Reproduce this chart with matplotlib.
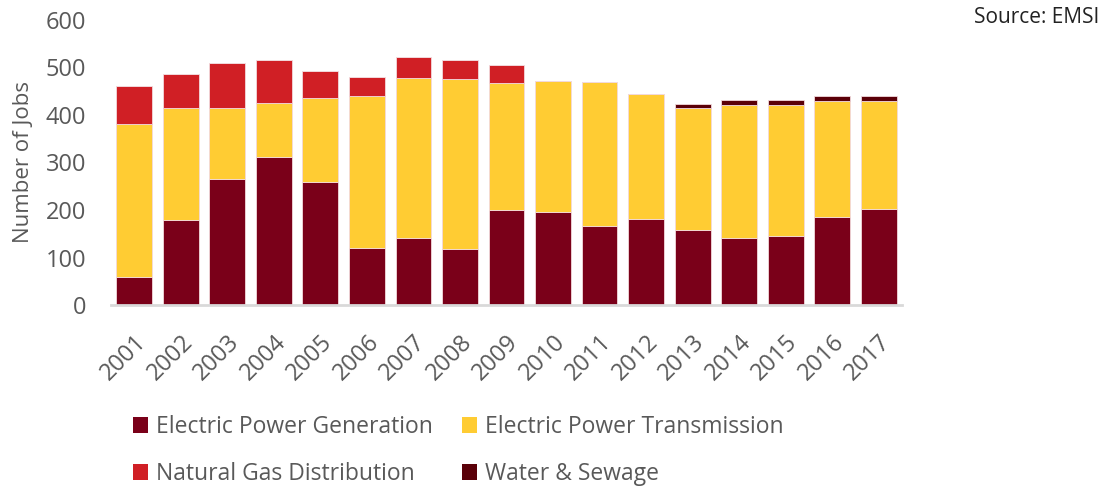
import matplotlib
matplotlib.use("Agg")
import matplotlib.pyplot as plt
import numpy as np
from matplotlib.patches import Patch

years = ["2001", "2002", "2003", "2004", "2005", "2006", "2007", "2008", "2009",
         "2010", "2011", "2012", "2013", "2014", "2015", "2016", "2017"]
generation = [58, 179, 265, 312, 259, 120, 140, 118, 200, 196, 166, 181, 157, 140, 145, 186, 202]
transmission = [324, 236, 150, 114, 177, 320, 337, 358, 267, 275, 303, 263, 257, 282, 277, 244, 228]
natural_gas = [79, 72, 95, 89, 57, 40, 46, 39, 38, 0, 0, 0, 0, 0, 0, 0, 0]
water_sewage = [0, 0, 0, 0, 0, 0, 0, 0, 0, 0, 0, 0, 10, 10, 10, 11, 11]

series = [
    ("Electric Power Generation", generation, "#7A0019"),
    ("Electric Power Transmission", transmission, "#FFCC33"),
    ("Natural Gas Distribution", natural_gas, "#D01F25"),
    ("Water & Sewage", water_sewage, "#5A0008"),
]

plt.rcParams['font.family'] = ['Open Sans', 'DejaVu Sans']
grey = "#595959"

fig = plt.figure(figsize=(11.1, 4.87), dpi=100)
ax = fig.add_axes([0.1, 0.3737, 0.7126, 0.5853])

x = np.arange(len(years))
bottom = np.zeros(len(years))
for name, vals, col in series:
    v = np.array(vals, dtype=float)
    ax.bar(x, v, width=0.77, bottom=bottom, color=col, edgecolor="#F2D9DC",
           linewidth=0.6, label=name)
    bottom += v

ax.set_xlim(-0.5, len(years) - 0.5)
ax.set_ylim(0, 600)
ax.set_yticks(range(0, 601, 100))
ax.set_xticks(x)
ax.set_xticklabels(years, rotation=45, ha="right", rotation_mode="anchor")
ax.tick_params(axis="y", length=0, labelsize=17, labelcolor=grey, pad=18)
ax.tick_params(axis="x", length=0, labelsize=17, labelcolor=grey, pad=18)
for s in ["top", "right", "left"]:
    ax.spines[s].set_visible(False)
ax.spines["bottom"].set_color("#D9D9D9")
ax.spines["bottom"].set_linewidth(2)
ax.set_ylabel("Number of Jobs", fontsize=16, color=grey, labelpad=8)

fig.text(0.99, 0.965, "Source: EMSI", ha="right", va="center", fontsize=15, color="#222222")

# legend laid out row-wise: (Gen, Trans) / (Gas, Water)
order = [0, 2, 1, 3]
handles = [Patch(facecolor=series[i][2], edgecolor="none") for i in order]
labels = [series[i][0] for i in order]
leg = fig.legend(handles, labels, loc="center left", bbox_to_anchor=(0.101, 0.075),
                 ncol=2, frameon=False, fontsize=16.5, handlelength=0.65, handleheight=0.65,
                 handletextpad=0.35, columnspacing=1.3, labelspacing=1.0,
                 labelcolor=grey)

fig.savefig("out.png", dpi=100)
